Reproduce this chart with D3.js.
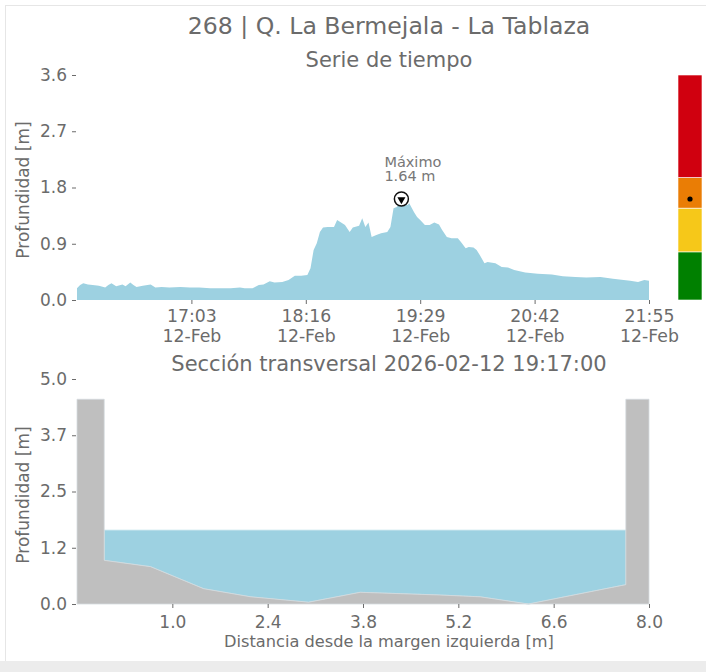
<!DOCTYPE html>
<html>
<head>
<meta charset="utf-8">
<script src="https://cdn.jsdelivr.net/npm/d3@7/dist/d3.min.js"></script>
<style>
  html, body { margin: 0; padding: 0; background: #ffffff; }
  svg { display: block; }
  text { font-family: "DejaVu Sans", sans-serif; }
</style>
</head>
<body>
<svg id="chart" width="706" height="672"></svg>
<script>
// ---------------- DATA ----------------
const chartTitle = "268 | Q. La Bermejala - La Tablaza";
const topTitle = "Serie de tiempo";
const bottomTitle = "Sección transversal 2026-02-12 19:17:00";
const yLabel = "Profundidad [m]";
const xLabelBottom = "Distancia desde la margen izquierda [m]";
const seriesDate = "2026-02-12";
const timeStart = "15:50";
const timeEnd = "21:55";

const seriesTimes = [
  "15:50","15:52","15:54","15:57","16:00","16:04","16:08","16:10","16:12","16:15",
  "16:19","16:21","16:24","16:26","16:28","16:32","16:37","16:40","16:44","16:49",
  "16:56","17:02","17:08","17:15","17:21","17:28","17:34","17:37","17:42","17:46",
  "17:49","17:53","17:56","18:01","18:05","18:09","18:13","18:17","18:19","18:21",
  "18:23","18:25","18:27","18:30","18:34","18:36","18:38","18:41","18:44","18:46",
  "18:50","18:52","18:54","18:56","18:58","19:01","19:04","19:08","19:10","19:12",
  "19:14","19:15","19:17","19:18","19:21","19:22","19:25","19:27","19:29","19:32",
  "19:35","19:38","19:41","19:43","19:46","19:49","19:53","19:55","19:58","20:00",
  "20:03","20:05","20:07","20:10","20:12","20:17","20:21","20:25","20:29","20:36",
  "20:44","20:53","21:00","21:08","21:15","21:24","21:32","21:43","21:48","21:52",
  "21:55"
];
const seriesDepth = [
  0.19,0.24,0.27,0.25,0.24,0.23,0.20,0.24,0.27,0.22,
  0.25,0.22,0.28,0.24,0.21,0.23,0.25,0.20,0.21,0.20,
  0.21,0.20,0.20,0.19,0.19,0.19,0.20,0.19,0.19,0.24,
  0.25,0.30,0.28,0.29,0.32,0.39,0.39,0.40,0.51,0.80,
  0.91,1.09,1.16,1.17,1.17,1.28,1.25,1.20,1.09,1.16,
  1.19,1.31,1.17,1.24,1.01,1.04,1.07,1.09,1.17,1.47,
  1.49,1.52,1.64,1.52,1.52,1.55,1.41,1.33,1.28,1.20,
  1.20,1.24,1.21,1.12,1.01,0.99,0.99,0.93,0.83,0.85,
  0.84,0.80,0.72,0.59,0.61,0.59,0.53,0.52,0.48,0.44,
  0.42,0.41,0.38,0.37,0.36,0.37,0.34,0.31,0.29,0.32,
  0.31
];
const timeTicks = ["17:03","18:16","19:29","20:42","21:55"];
const timeTickDate = "12-Feb";
const topYTicks = [0, 0.9, 1.8, 2.7, 3.6];
const topYDomain = [0, 3.6];

const maxLabel = ["Máximo", "1.64 m"];

// alert levels (bar on the right), in metres
const levelBounds = [0, 0.77, 1.47, 1.96, 3.6];
const levelColors = ["#008000", "#f6c819", "#ea7d05", "#d0000f"];

// cross section
const bedX = [0, 0.68, 1.46, 2.15, 3.0, 3.76, 4.93, 5.52, 6.23, 7.66];
const bedY = [0.97, 0.83, 0.34, 0.16, 0.04, 0.26, 0.20, 0.16, 0.0, 0.43];
const wallLeft = [-0.4, 0.0];
const wallRight = [7.66, 8.0];
const wallTop = 4.55;
const waterLevel = 1.64;
const secXDomain = [-0.4, 8.0];
const secXTicks = [1.0, 2.4, 3.8, 5.2, 6.6, 8.0];
const secYDomain = [0, 5];
const secYTicks = [0, 1.25, 2.5, 3.75, 5.0];
const secYTickLabels = ["0.0", "1.2", "2.5", "3.7", "5.0"];

// ---------------- STYLE ----------------
const waterColor = "#9dd1e1";
const groundColor = "#bfbfbf";
const textColor = "#6b6b6b";
const tickColor = "#6b6b6b";

const svg = d3.select("#chart");

// frame
svg.append("rect").attr("x", 0).attr("y", 0).attr("width", 706).attr("height", 672).attr("fill", "#ffffff");
svg.append("rect").attr("x", 0).attr("y", 661).attr("width", 706).attr("height", 11).attr("fill", "#ececec");
svg.append("line").attr("x1", 5.5).attr("x2", 5.5).attr("y1", 5).attr("y2", 661).attr("stroke", "#e6e6e6");
svg.append("line").attr("x1", 5).attr("x2", 706).attr("y1", 5.5).attr("y2", 5.5).attr("stroke", "#e6e6e6");

// titles
svg.append("text").attr("x", 389).attr("y", 34).attr("text-anchor", "middle")
  .attr("font-size", 23.6).attr("fill", textColor).text(chartTitle);
svg.append("text").attr("x", 389).attr("y", 67).attr("text-anchor", "middle")
  .attr("font-size", 21).attr("fill", textColor).text(topTitle);
svg.append("text").attr("x", 389).attr("y", 371).attr("text-anchor", "middle")
  .attr("font-size", 21).attr("fill", textColor).text(bottomTitle);

// ---------------- TOP: time series ----------------
const parseT = d3.timeParse("%Y-%m-%d %H:%M");
const toDate = s => parseT(seriesDate + " " + s);
const series = seriesTimes.map((t, i) => ({ t: toDate(t), v: seriesDepth[i] }));

const xT = d3.scaleTime().domain([toDate(timeStart), toDate(timeEnd)]).range([77, 649]);
const yT = d3.scaleLinear().domain(topYDomain).range([300, 75]);

const area = d3.area().x(d => xT(d.t)).y0(yT(0)).y1(d => yT(d.v));
svg.append("path").datum(series).attr("d", area).attr("fill", waterColor);

function styleAxis(g) {
  g.select(".domain").remove();
  g.selectAll(".tick line").attr("stroke", tickColor).attr("stroke-width", 1);
  g.selectAll(".tick text").attr("fill", textColor).attr("font-family", "DejaVu Sans, sans-serif");
}

const yAxisTop = d3.axisLeft(yT).tickValues(topYTicks).tickFormat(d3.format(".1f")).tickSize(4).tickPadding(5);
svg.append("g").attr("transform", "translate(76,0)").call(yAxisTop).call(styleAxis)
  .selectAll(".tick text").attr("font-size", 17);

const xAxisTop = d3.axisBottom(xT).tickValues(timeTicks.map(toDate)).tickFormat(d3.timeFormat("%H:%M")).tickSize(4).tickPadding(5);
const gxTop = svg.append("g").attr("transform", "translate(0,300)").call(xAxisTop).call(styleAxis);
gxTop.selectAll(".tick text").attr("font-size", 17.3).attr("dy", null).attr("y", 22);
gxTop.selectAll(".tick").append("text").attr("fill", textColor).attr("font-size", 17.3)
  .attr("text-anchor", "middle").attr("y", 42).text(timeTickDate);

svg.append("text").attr("transform", "translate(29,190) rotate(-90)").attr("text-anchor", "middle")
  .attr("font-size", 17).attr("fill", textColor).text(yLabel);

// maximum marker
const maxIdx = d3.maxIndex(series, d => d.v);
const maxPt = series[maxIdx];
const mx = xT(maxPt.t), my = yT(maxPt.v);
svg.append("circle").attr("cx", mx).attr("cy", my + 1.5).attr("r", 7).attr("fill", "#ffffff")
  .attr("stroke", "#111").attr("stroke-width", 1.5);
svg.append("path").attr("d", d3.symbol().type(d3.symbolTriangle).size(28))
  .attr("transform", `translate(${mx},${my + 2}) rotate(180)`).attr("fill", "#000");
svg.append("text").attr("x", mx - 17).attr("y", my - 31).attr("font-size", 14.5).attr("fill", "#777")
  .text(maxLabel[0]);
svg.append("text").attr("x", mx - 17).attr("y", my - 16.5).attr("font-size", 14.5).attr("fill", "#777")
  .text(maxLabel[1]);

// alert level bar
const levels = d3.range(levelColors.length).map(i => ({ lo: levelBounds[i], hi: levelBounds[i + 1], c: levelColors[i] }));
svg.append("g").selectAll("rect").data(levels).join("rect")
  .attr("x", 678).attr("width", 24)
  .attr("y", d => yT(d.hi)).attr("height", d => yT(d.lo) - yT(d.hi))
  .attr("fill", d => d.c).attr("stroke", "#ffffff").attr("stroke-width", 0.6);
svg.append("circle").attr("cx", 690).attr("cy", yT(maxPt.v) + 1.5).attr("r", 2.6).attr("fill", "#000");

// ---------------- BOTTOM: cross section ----------------
const xS = d3.scaleLinear().domain(secXDomain).range([77, 649]);
const yS = d3.scaleLinear().domain(secYDomain).range([604, 379]);

const bed = bedX.map((x, i) => [x, bedY[i]]);
// water polygon
const water = [[bedX[0], waterLevel], [bedX[bedX.length - 1], waterLevel]]
  .concat(bed.slice().reverse());
svg.append("path")
  .attr("d", d3.line().x(d => xS(d[0])).y(d => yS(d[1]))(water) + "Z")
  .attr("fill", waterColor).attr("stroke", "#b5dde9").attr("stroke-width", 0.8);

// ground polygon (walls + bed)
const ground = [[wallLeft[0], 0], [wallLeft[0], wallTop], [wallLeft[1], wallTop]]
  .concat(bed)
  .concat([[wallRight[0], wallTop], [wallRight[1], wallTop], [wallRight[1], 0]]);
svg.append("path")
  .attr("d", d3.line().x(d => xS(d[0])).y(d => yS(d[1]))(ground) + "Z")
  .attr("fill", groundColor).attr("stroke", "#d6dcdf").attr("stroke-width", 0.8);

const yAxisSec = d3.axisLeft(yS).tickValues(secYTicks).tickFormat((d, i) => secYTickLabels[i]).tickSize(4).tickPadding(5);
svg.append("g").attr("transform", "translate(76,0)").call(yAxisSec).call(styleAxis)
  .selectAll(".tick text").attr("font-size", 17);

const xAxisSec = d3.axisBottom(xS).tickValues(secXTicks).tickFormat(d3.format(".1f")).tickSize(4).tickPadding(5);
svg.append("g").attr("transform", "translate(0,604)").call(xAxisSec).call(styleAxis)
  .selectAll(".tick text").attr("font-size", 17).attr("dy", null).attr("y", 24);

svg.append("text").attr("transform", "translate(29,495) rotate(-90)").attr("text-anchor", "middle")
  .attr("font-size", 17).attr("fill", textColor).text(yLabel);
svg.append("text").attr("x", 389).attr("y", 647).attr("text-anchor", "middle")
  .attr("font-size", 16.2).attr("fill", textColor).text(xLabelBottom);
</script>
</body>
</html>
